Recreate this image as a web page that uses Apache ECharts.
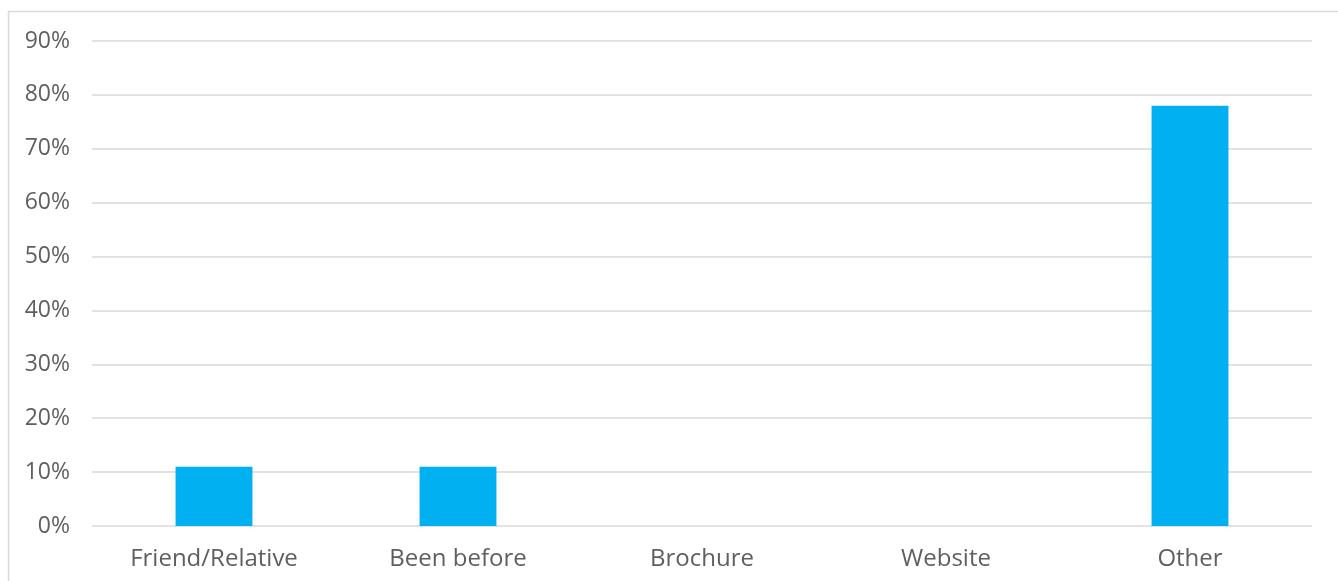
<!DOCTYPE html>
<html>
<head>
<meta charset="utf-8">
<script src="https://cdn.jsdelivr.net/npm/echarts@6/dist/echarts.min.js"></script>
<style>
  html, body { margin: 0; padding: 0; background: #fff; }
  #chart { width: 1338px; height: 581px; }
</style>
</head>
<body>
<div id="chart"></div>
<script>
// How visitors heard about us
const categories = ['Friend/Relative', 'Been before', 'Brochure', 'Website', 'Other'];
const shares = [11, 11, 0, 0, 78];
const yTicks = { min: 0, max: 90, step: 10 };

const chart = echarts.init(document.getElementById('chart'), null, { renderer: 'canvas' });
const textColor = '#5f5f5f';
const font = '"Open Sans", Lato, sans-serif';

chart.setOption({
  animation: false,
  backgroundColor: '#ffffff',
  graphic: [{
    type: 'rect',
    shape: { x: 8.5, y: 11.5, width: 1340, height: 580 },
    style: { fill: 'none', stroke: '#d9d9d9', lineWidth: 1.5 },
    silent: true
  }],
  grid: { left: 92, right: 26, top: 41, bottom: 55 },
  xAxis: {
    type: 'category',
    data: categories,
    axisLine: { show: false },
    axisTick: { show: false },
    axisLabel: { color: textColor, fontSize: 24, fontFamily: font, margin: 21 }
  },
  yAxis: {
    type: 'value',
    min: yTicks.min,
    max: yTicks.max,
    interval: yTicks.step,
    axisLine: { show: false },
    axisTick: { show: false },
    splitLine: { lineStyle: { color: '#d9d9d9', width: 1.5 } },
    axisLabel: { color: textColor, fontSize: 23, fontFamily: font, margin: 22, formatter: '{value}%' }
  },
  series: [{
    type: 'bar',
    data: shares,
    barWidth: '31.5%',
    itemStyle: { color: '#00b0f0' }
  }]
});
</script>
</body>
</html>
